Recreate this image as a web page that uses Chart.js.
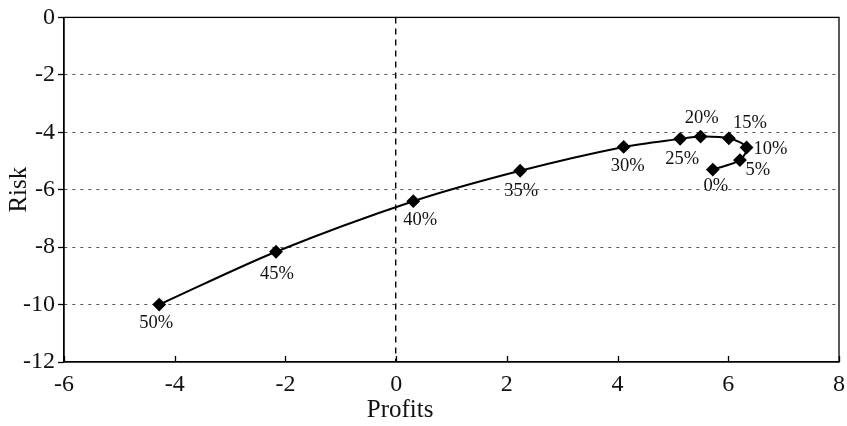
<!DOCTYPE html>
<html>
<head>
<meta charset="utf-8">
<script src="https://cdn.jsdelivr.net/npm/chart.js@4/dist/chart.umd.min.js"></script>
<style>
  html, body { margin: 0; padding: 0; background: #ffffff; }
  #wrap { width: 847px; height: 426px; }
</style>
</head>
<body>
<div id="wrap"><canvas id="c" width="847" height="426"></canvas></div>
<script>
// Share levels and the resulting profit / risk pairs
const shares  = ['0%', '5%', '10%', '15%', '20%', '25%', '30%', '35%', '40%', '45%', '50%'];
const profits = [5.72, 6.21, 6.33, 6.01, 5.50, 5.13, 4.11, 2.24, 0.31, -2.17, -4.28];
const risk    = [-5.30, -4.97, -4.53, -4.21, -4.15, -4.23, -4.51, -5.34, -6.40, -8.16, -10.00];

// Axis ranges, tick step and axis titles
const xRange = [-6, 8];
const yRange = [-12, 0];
const tickStep = 2;
const xTitle = 'Profits';
const yTitle = 'Risk';

// Where each point label sits relative to its marker (pixels)
const labelOffsets = {
  '0%': [3, 17], '5%': [18, 10], '10%': [24, 2], '15%': [21, -15], '20%': [1, -18],
  '25%': [2, 20], '30%': [4, 19], '35%': [1, 20], '40%': [7, 19], '45%': [1, 22], '50%': [-3, 19]
};

const FONT = "'Liberation Serif', 'Times New Roman', serif";

const points = profits.map((p, i) => ({ x: p, y: risk[i] }));

// Frame around the plot area, inward x ticks, the x title and the point labels
const decorations = {
  id: 'decorations',
  beforeDatasetsDraw(chart) {
    const { ctx, chartArea: a, scales } = chart;
    ctx.save();
    ctx.strokeStyle = '#000';
    ctx.lineWidth = 1.3;
    ctx.strokeRect(a.left, a.top, a.right - a.left, a.bottom - a.top);
    // x ticks point into the plot
    const xs = scales.x;
    xs.ticks.forEach((t, i) => {
      const px = Math.round(xs.getPixelForTick(i)) + 0.5;
      ctx.beginPath();
      ctx.moveTo(px, a.bottom);
      ctx.lineTo(px, a.bottom - 6);
      ctx.stroke();
    });
    // x axis title, set under the zero line
    ctx.fillStyle = '#111';
    ctx.font = "25px " + FONT;
    ctx.textAlign = 'center';
    ctx.textBaseline = 'middle';
    ctx.fillText(xTitle, xs.getPixelForValue(0) + 4, a.bottom + 48);
    ctx.restore();
  },
  afterDatasetsDraw(chart) {
    const { ctx } = chart;
    const meta = chart.getDatasetMeta(0);
    ctx.save();
    ctx.fillStyle = '#111';
    ctx.font = "18.5px " + FONT;
    ctx.textAlign = 'center';
    ctx.textBaseline = 'middle';
    meta.data.forEach((el, i) => {
      const off = labelOffsets[shares[i]] || [0, 18];
      ctx.fillText(shares[i], el.x + off[0], el.y + off[1]);
    });
    ctx.restore();
  }
};

new Chart(document.getElementById('c'), {
  type: 'line',
  data: {
    datasets: [{
      data: points,
      borderColor: '#000',
      borderWidth: 2,
      backgroundColor: '#000',
      pointStyle: 'rectRot',
      pointRadius: 5.5,
      pointHoverRadius: 5.5,
      pointBackgroundColor: '#000',
      pointBorderColor: '#000',
      tension: 0.3,
      fill: false
    }]
  },
  options: {
    responsive: false,
    animation: false,
    layout: { padding: { top: 15, right: 0, left: 0, bottom: 0 } },
    plugins: { legend: { display: false }, tooltip: { enabled: false } },
    scales: {
      x: {
        type: 'linear',
        min: xRange[0], max: xRange[1],
        afterFit(scale) {
          scale.height = 64;
          scale.paddingLeft = 0;
          scale.paddingRight = 8;
        },
        ticks: {
          stepSize: tickStep,
          color: '#111',
          padding: 8,
          maxRotation: 0,
          font: { family: FONT, size: 24 }
        },
        grid: {
          drawTicks: false,
          lineWidth: 1.4,
          color: (c) => (c.tick && c.tick.value === 0 ? '#000' : 'rgba(0,0,0,0)')
        },
        border: { display: true, color: '#000', width: 1.3, dash: [6, 5] },
        title: { display: false }
      },
      y: {
        type: 'linear',
        min: yRange[0], max: yRange[1],
        afterFit(scale) { scale.width = 64; },
        ticks: {
          stepSize: tickStep,
          color: '#111',
          padding: 3,
          font: { family: FONT, size: 24 }
        },
        grid: {
          tickLength: 6,
          lineWidth: 1,
          tickColor: '#000',
          tickWidth: 1.3,
          color: (c) => {
            const v = c.tick && c.tick.value;
            return (v === yRange[0] || v === yRange[1]) ? 'rgba(0,0,0,0)' : '#555';
          }
        },
        border: { display: true, color: '#000', width: 1.3, dash: [3, 5] },
        title: {
          display: true, text: yTitle, color: '#111',
          font: { family: FONT, size: 25 },
          padding: { top: 4, bottom: 0 }
        }
      }
    }
  },
  plugins: [decorations]
});
</script>
</body>
</html>
